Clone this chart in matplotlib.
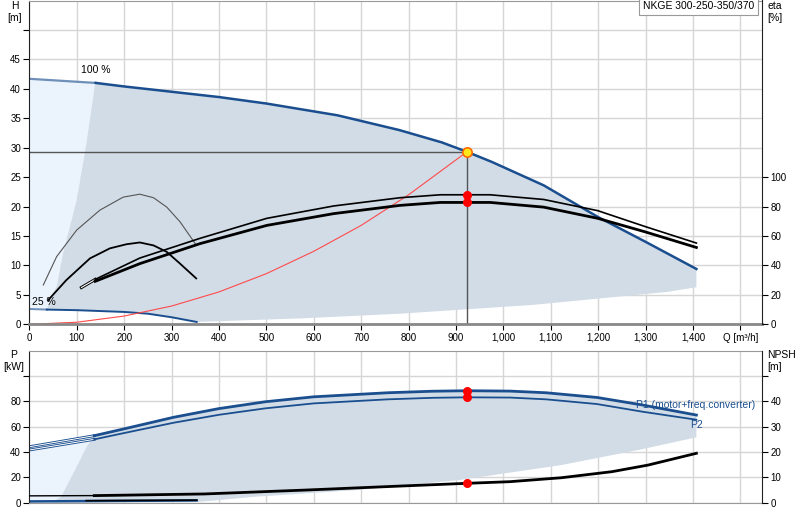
import matplotlib
matplotlib.use("Agg")
import matplotlib.pyplot as plt

plt.rcParams.update({"font.family": ["Liberation Sans", "DejaVu Sans"],
                     "font.size": 7})

DARK_BLUE = "#1a4e8e"
REGION = "#d1dce7"
LIGHT = "#ebf3fc"
GRID = "#d6d6d6"

# ---- top chart: head curves [m] vs Q [m3/h] ----
q_100 = [0, 140, 200, 300, 400, 500, 650, 780, 870, 923, 975, 1085, 1200, 1300, 1407]
h_100 = [41.7, 41.0, 40.4, 39.5, 38.6, 37.5, 35.5, 33.0, 30.9, 29.3, 27.6, 23.6, 18.2, 14.0, 9.4]

q_25 = [0, 37, 100, 200, 250, 300, 353]
h_25 = [2.6, 2.5, 2.4, 2.1, 1.8, 1.2, 0.4]

# left edge and bottom edge of the operating range
q_left = [37, 50, 58, 71, 100, 120, 139]
h_left = [2.5, 5.3, 6.5, 12.0, 21.1, 30.5, 41.0]
q_low = [353, 571, 782, 1063, 1345, 1407]
h_low = [0.4, 1.0, 1.8, 3.3, 5.5, 6.3]

# system curve
q_sys = [0, 100, 200, 300, 400, 500, 600, 700, 800, 923]
h_sys = [0, 0.35, 1.4, 3.1, 5.5, 8.6, 12.4, 16.8, 22.0, 29.3]

# efficiency curves [%]
q_eta1 = [110, 139, 233, 360, 501, 642, 782, 867, 923, 972, 1085, 1199, 1299, 1407]
eta1 = [25.0, 30.5, 45.0, 58.4, 72.0, 80.4, 86.0, 88.0, 88.0, 88.0, 84.8, 77.2, 66.4, 55.2]
q_eta2 = [139, 233, 360, 501, 642, 782, 867, 923, 972, 1085, 1199, 1299, 1407]
eta2 = [29.2, 41.2, 54.8, 67.2, 75.2, 80.8, 82.8, 82.8, 82.8, 79.6, 72.0, 62.8, 52.2]
q_arc1 = [29.5, 57.7, 99.9, 149, 198, 233, 262, 290, 318, 350]
eta_arc1 = [26.7, 46.0, 64.0, 77.6, 86.4, 88.4, 86.0, 79.6, 69.6, 54.8]
q_arc2 = [40, 78, 128, 170, 205, 233, 262, 290, 318, 352]
eta_arc2 = [16.5, 30.0, 44.8, 51.6, 54.4, 55.6, 53.6, 49.2, 41.2, 31.2]

# duty point
q_duty, h_duty = 923, 29.3
eta_duty = [88.0, 82.8]

# ---- bottom chart: power [kW] and NPSH [m] ----
q_p = [0, 137, 200, 304, 400, 498, 600, 756, 850, 923, 1014, 1090, 1197, 1294, 1407]
p1 = [44.2, 52.9, 58.3, 67.4, 74.3, 79.7, 83.6, 86.8, 88.0, 88.4, 88.1, 86.8, 83.1, 77.1, 69.2]
p2 = [41.6, 50.0, 55.0, 63.1, 69.4, 74.5, 78.4, 81.6, 82.8, 83.2, 83.0, 81.6, 77.9, 71.8, 65.5]
q_pleft = [46, 67, 100, 121, 137]
p_left = [0, 4.7, 28.4, 44.2, 52.9]
q_plow = [1407, 1284, 1122, 907, 691, 476, 348]
p_low = [51.6, 41.6, 29.7, 17.9, 10.0, 4.7, 0.3]
q_p25 = [0, 137, 353]
p_25 = [1.0, 1.3, 1.8]

q_npsh = [0, 137, 369, 584, 799, 923, 1014, 1122, 1229, 1305, 1407]
npsh = [2.7, 2.8, 3.45, 5.0, 6.7, 7.65, 8.3, 9.85, 12.25, 14.85, 19.5]
p_duty = [88.4, 83.2]
npsh_duty = 7.65

q_ticks = list(range(0, 1600, 100))


def style(ax):
    ax.set_xlim(0, 1546)
    ax.set_xticks(q_ticks)
    ax.grid(True, color=GRID, lw=1)
    ax.set_axisbelow(True)
    ax.tick_params(direction="out", length=4, width=0.8, pad=2)
    ax.spines["top"].set_color("#999999")
    ax.spines["left"].set_color("#222222")
    ax.spines["right"].set_visible(False)


def right_axis(ax, top, ticks, labels):
    tx = ax.twinx()
    tx.set_position(ax.get_position())
    tx.set_ylim(0, top)
    tx.set_yticks(ticks)
    tx.set_yticklabels(labels)
    tx.tick_params(direction="out", length=4, width=0.8, pad=2)
    tx.spines["right"].set_color("#222222")
    for s in ["top", "left", "bottom"]:
        tx.spines[s].set_visible(False)
    return tx


fig = plt.figure(figsize=(8, 5.2), dpi=100)

# ---------------- top chart ---------------- #
ax = fig.add_axes([29.3 / 800, 1 - 324.3 / 520, 733 / 800, 323.8 / 520])
style(ax)
ax.set_ylim(0, 55)
ax.set_yticks(range(0, 55, 5))
ax.set_yticklabels([str(v) for v in range(0, 50, 5)] + [""])
ax.set_xticklabels([f"{v:,}" for v in q_ticks[:-1]] + ["Q [m³/h]"])
ax.spines["bottom"].set_color("#888888")
ax.spines["bottom"].set_linewidth(2)

ax.fill(q_100[:2] + q_left[::-1] + q_25[:2][::-1],
        h_100[:2] + h_left[::-1] + h_25[:2][::-1], color=LIGHT, lw=0)
ax.fill(q_left + q_100[1:] + q_low[::-1] + q_25[1:][::-1],
        h_left + h_100[1:] + h_low[::-1] + h_25[1:][::-1], color=REGION, lw=0)

ax.plot(q_100[:2], h_100[:2], color="#6d8fb8", lw=1.6)
ax.plot(q_100[1:], h_100[1:], color=DARK_BLUE, lw=1.8)
ax.plot(q_25[:2], h_25[:2], color="#6d8fb8", lw=1.4)
ax.plot(q_25[1:], h_25[1:], color=DARK_BLUE, lw=1.4)
ax.plot(q_sys, h_sys, color="#ff4a4a", lw=0.8)
ax.plot([0, q_duty], [h_duty, h_duty], color="#555555", lw=1)
ax.plot([q_duty, q_duty], [0, h_duty], color="#555555", lw=1)
ax.text(110, 42.4, "100 %", fontsize=7.5, va="bottom")
ax.text(5, 3.0, "25 %", fontsize=7.5, va="bottom")

ex = right_axis(ax, 220, range(0, 120, 20), [str(v) for v in range(0, 120, 20)])
ex.plot(q_arc1, eta_arc1, color="#555555", lw=0.8)
ex.plot(q_arc2, eta_arc2, color="black", lw=1.3)
ex.plot(q_eta1[:2], eta1[:2], color="black", lw=2.2)
ex.plot(q_eta1[:2], eta1[:2], color="white", lw=0.8)
ex.plot(q_eta1[1:], eta1[1:], color="black", lw=1.2)
ex.plot(q_eta2, eta2, color="black", lw=2.0)
ex.scatter([q_duty, q_duty], eta_duty, s=30, color="red", zorder=5)
ex.scatter([q_duty], [h_duty * 4], s=45, color="#ffe81a",
           edgecolor="#ff6a00", lw=1.2, zorder=6)

ax.text(0.9885, 0.997, "NKGE 300-250-350/370", transform=ax.transAxes,
        ha="right", va="top", fontsize=7.5,
        bbox=dict(boxstyle="square,pad=0.35", fc="white", ec="#999999", lw=0.8))

# ---------------- bottom chart ---------------- #
bx = fig.add_axes([29.3 / 800, 1 - 502.7 / 520, 733 / 800, 152 / 520])
style(bx)
bx.set_ylim(0, 120)
bx.set_yticks(range(0, 120, 20))
bx.set_yticklabels([str(v) for v in range(0, 100, 20)] + [""])
bx.set_xticklabels([])
bx.tick_params(axis="x", length=0)
bx.spines["bottom"].set_color("#999999")

bx.fill(q_p[:2] + q_pleft[::-1] + [0], p2[:2] + p_left[::-1] + [0],
        color=LIGHT, lw=0)
bx.fill(q_pleft + q_p[1:] + q_plow, p_left + p1[1:] + p_low,
        color=REGION, lw=0)

for p, w in [(p1, 2.0), (p2, 1.3)]:
    bx.plot(q_p[:2], p[:2], color=DARK_BLUE, lw=2.0)
    bx.plot(q_p[:2], p[:2], color="white", lw=0.7)
    bx.plot(q_p[1:], p[1:], color=DARK_BLUE, lw=w)
bx.plot(q_p25, p_25, color=DARK_BLUE, lw=1.8)
bx.scatter([q_duty, q_duty], p_duty, s=30, color="red", zorder=5)
bx.text(1280, 77.5, "P1 (motor+freq.converter)", color=DARK_BLUE,
        fontsize=7.5, va="center")
bx.text(1393, 61.5, "P2", color=DARK_BLUE, fontsize=7.5, va="center")

nx = right_axis(bx, 60, range(0, 60, 10), [str(v) for v in range(0, 50, 10)] + [""])
nx.plot(q_npsh[:2], npsh[:2], color="black", lw=1.0)
nx.plot(q_npsh[1:], npsh[1:], color="black", lw=2.0)
nx.plot([120, 353], [0.8, 1.0], color="black", lw=1.2)
nx.scatter([q_duty], [npsh_duty], s=30, color="red", zorder=5)

# axis titles
for x, y, s, ha in [(15, 6, "H", "center"), (15, 18, "[m]", "center"),
                    (767, 6, "eta", "left"), (767, 18, "[%]", "left"),
                    (14, 355, "P", "center"), (14, 367, "[kW]", "center"),
                    (767, 355, "NPSH", "left"), (767, 367, "[m]", "left")]:
    fig.text(x / 800, 1 - y / 520, s, ha=ha, va="center", fontsize=7.5)

fig.savefig("out.png", dpi=100)
